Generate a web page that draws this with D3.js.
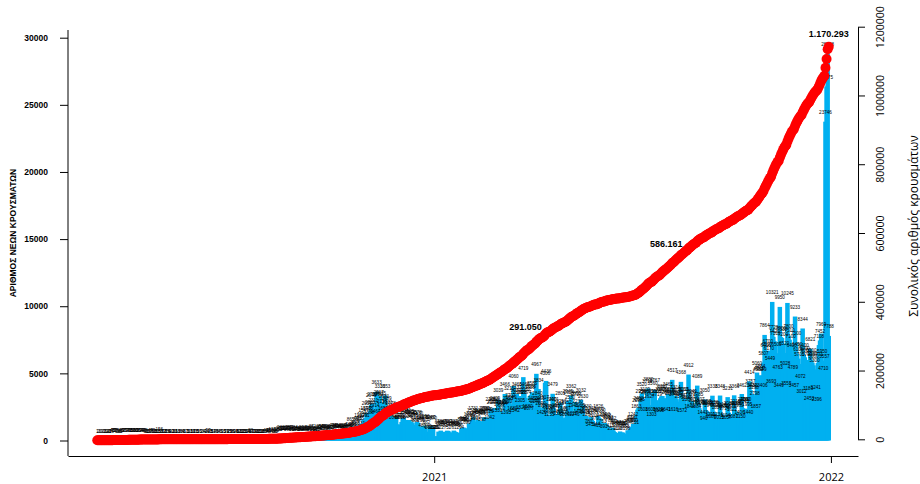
<!DOCTYPE html>
<html>
<head>
<meta charset="utf-8">
<script src="https://cdn.jsdelivr.net/npm/d3@7"></script>
<style>
  html, body { margin: 0; padding: 0; background: #fff; }
  svg { display: block; }
  .axis text { fill: #000; }
  .axis line, .axis path { stroke: #000; }
</style>
</head>
<body>
<div id="chart"></div>
<script>
// daily new cases, one value per day from firstDay on
const firstDay = '2020-02-26';
const feb2020 = [1, 2, 1, 0];
const mar2020 = [0, 2, 0, 3, 22, 14, 13, 11, 7, 16, 45, 99, 57, 38, 56, 24, 33, 31, 46, 61, 66, 95, 71, 74, 78, 71, 73, 95, 60, 56, 102];
const apr2020 = [90, 51, 68, 50, 72, 64, 79, 49, 45, 48, 35, 30, 17, 32, 44, 25, 59, 15, 15, 20, 22, 15, 156, 36, 17, 20, 12, 17, 8, 15];
const may2020 = [16, 6, 4, 10, 13, 2, 10, 11, 6, 18, 3, 2, 6, 8, 4, 8, 17, 13, 1, 3, 10, 15, 1, 17, 8, 11, 20, 5, 5, 10, 5];
const jun2020 = [2, 3, 4, 4, 1, 24, 97, 10, 15, 8, 5, 14, 7, 16, 9, 5, 4, 6, 5, 9, 13, 5, 7, 24, 3, 15, 29, 5, 8, 8];
const jul2020 = [9, 14, 28, 5, 10, 16, 23, 12, 15, 13, 23, 37, 14, 18, 9, 38, 17, 20, 17, 24, 13, 18, 33, 15, 23, 18, 16, 8, 29, 43, 36];
const aug2020 = [48, 45, 110, 37, 121, 80, 30, 10, 80, 150, 151, 203, 262, 191, 230, 228, 217, 221, 168, 269, 284, 216, 211, 167, 284, 180, 176, 198, 240, 193, 154];
const sep2020 = [168, 293, 225, 178, 221, 234, 113, 267, 209, 206, 371, 161, 187, 143, 182, 244, 318, 355, 327, 342, 227, 224, 338, 364, 294, 173, 204, 312, 274, 416];
const oct2020 = [460, 441, 366, 394, 216, 342, 339, 417, 410, 389, 333, 323, 393, 446, 508, 865, 460, 493, 406, 667, 583, 882, 935, 1169, 935, 631, 1259, 1547, 1211, 1690, 2056];
const nov2020 = [1738, 1388, 2166, 2646, 2752, 2311, 1914, 1464, 3633, 2752, 2917, 3316, 2835, 2198, 1695, 2581, 3353, 2489, 2131, 1642, 1498, 2078, 1758, 1498, 1044, 1602, 1747, 1193, 1193, 1044];
const dec2020 = [1026, 1384, 1676, 1677, 1395, 1531, 1126, 1213, 1525, 1412, 1395, 1294, 1155, 881, 832, 1378, 1330, 1043, 938, 793, 480, 1075, 1096, 878, 662, 389, 262, 1047, 1062, 262, 970];
const jan2021 = [262, 329, 262, 262, 663, 604, 736, 579, 653, 481, 275, 637, 731, 712, 618, 586, 447, 261, 737, 668, 626, 538, 589, 457, 294, 857, 926, 966, 908, 896, 696];
const feb2021 = [824, 1267, 1184, 1325, 1531, 1731, 951, 1009, 1416, 1529, 1455, 1429, 1425, 898, 1359, 1700, 1731, 1663, 1640, 1526, 1042, 2365, 2147, 2258, 2368, 2429, 2147, 1531];
const mar2021 = [3039, 2035, 1702, 2162, 2114, 2150, 3466, 1395, 2220, 2453, 3215, 2702, 2549, 1680, 4060, 1542, 3039, 3466, 2899, 3313, 2305, 1820, 2888, 4719, 3465, 3162, 2874, 1880, 1677, 3308, 3386];
const apr2021 = [3586, 2450, 2310, 2270, 4967, 2840, 3834, 2465, 2090, 1420, 1920, 2517, 4306, 4436, 1870, 1580, 1255, 1800, 2400, 3479, 2401, 1840, 1480, 1960, 1335, 2115, 2801, 2250, 1665, 1400];
const may2021 = [1300, 1707, 2152, 2945, 2924, 2530, 3362, 1317, 1946, 1246, 2866, 2727, 2230, 1495, 1965, 3032, 1747, 2630, 1474, 1412, 1830, 1264, 780, 545, 1742, 1536, 1464, 1200, 979, 544, 415];
const jun2021 = [1826, 1672, 1580, 1274, 753, 391, 1303, 1202, 1111, 1013, 788, 411, 259, 952, 742, 636, 568, 512, 219, 195, 674, 563, 606, 580, 483, 353, 198, 762, 677, 803];
const jul2021 = [946, 1020, 1242, 800, 651, 1863, 2298, 2450, 2395, 2950, 3520, 1608, 2966, 3109, 2896, 3716, 3880, 2627, 1608, 1303, 3560, 2960, 3767, 3006, 2719, 1624, 1598, 3147, 3290, 3317, 3002];
const aug2021 = [3156, 1641, 2890, 3465, 3017, 2865, 3116, 4517, 1616, 2790, 3314, 3078, 2896, 2817, 2576, 4368, 1572, 3160, 3115, 2717, 2529, 2384, 4912, 1844, 2920, 2949, 2619, 2328, 2140, 1884, 4089];
const sep2021 = [2785, 2407, 2175, 2096, 1443, 946, 3050, 2257, 2188, 2104, 1944, 1291, 1088, 3338, 2158, 2077, 1920, 1819, 1234, 1015, 3348, 2014, 1931, 1834, 1724, 1194, 1057, 3231, 2084, 1967];
const oct2021 = [1873, 1622, 1087, 3366, 2218, 2106, 2080, 1960, 1406, 1150, 3462, 2400, 2243, 2360, 2360, 1995, 1440, 4414, 3757, 3424, 3453, 3298, 2798, 1857, 5060, 4582, 4716, 4864, 4649, 3406, 5807];
const nov2021 = [7864, 6406, 6510, 6700, 6170, 5449, 3693, 10321, 7720, 7420, 7310, 6500, 4763, 3449, 9950, 7700, 7630, 7200, 6520, 5028, 3555, 10245, 7800, 7510, 7100, 6400, 4789, 3457, 9233, 7300];
const dec2021 = [6450, 6100, 5700, 4072, 3012, 8344, 6400, 6200, 6000, 5700, 3189, 2453, 6821, 6000, 5800, 5600, 5300, 3241, 2396, 5771, 7108, 7452, 7969, 5950, 4710, 5557, 23746, 26375, 28828, 7788];

// cumulative totals written on the red curve
const milestoneDates = ['2021-03-26', '2021-08-24', '2021-12-30'];
const milestoneValues = [291050, 586161, 1170293];

const leftTicks = [0, 5000, 10000, 15000, 20000, 25000, 30000];
const rightTicks = [0, 200000, 400000, 600000, 800000, 1000000, 1200000];
const yearTicks = ['2021-01-01', '2022-01-01'];
const leftTitle = 'ΑΡΙΘΜΟΣ ΝΕΩΝ ΚΡΟΥΣΜΑΤΩΝ';
const rightTitle = 'Συνολικός αριθμός κρουσμάτων';

const daily = [].concat(feb2020, mar2020, apr2020, may2020, jun2020, jul2020, aug2020,
  sep2020, oct2020, nov2020, dec2020, jan2021, feb2021, mar2021, apr2021, may2021,
  jun2021, jul2021, aug2021, sep2021, oct2021, nov2021, dec2021);

const parseDate = d3.utcParse('%Y-%m-%d');
const start = parseDate(firstDay);
const totals = d3.cumsum(daily);
const rows = daily.map((v, i) => ({ date: d3.utcDay.offset(start, i), value: v, total: totals[i] }));

const greek = d3.formatLocale({ decimal: ',', thousands: '.', grouping: [3], currency: ['', ''] });
const fmtTotal = greek.format(',');

const width = 920, height = 484;
const plot = { left: 68, right: 858, top: 30, bottom: 456 };

const svg = d3.select('#chart').append('svg')
  .attr('width', width)
  .attr('height', height);

// x axis padded by 4% on both sides
const first = rows[0].date, last = rows[rows.length - 1].date;
const span = last - first;
const x = d3.scaleUtc()
  .domain([new Date(+first - 0.04 * span), new Date(+last + 0.04 * span)])
  .range([plot.left, plot.right]);

const y = d3.scaleLinear().domain([0, 30000]).range([440.5, 37.7]);
const yCum = d3.scaleLinear().domain([0, d3.max(totals)]).range([440.2, 46.7]);
const yRight = d3.scaleLinear().domain([0, 1200000]).range([439.3, 26.7]);

// bars
const barW = 4.5;
svg.append('g')
  .selectAll('rect')
  .data(rows)
  .join('rect')
  .attr('x', d => x(d.date) - barW / 2)
  .attr('y', d => y(d.value))
  .attr('width', barW)
  .attr('height', d => y(0) - y(d.value))
  .attr('fill', '#00b0f0');

// tiny value labels
svg.append('g')
  .attr('font-family', '"Liberation Sans", Arial, sans-serif')
  .attr('font-size', 4.6)
  .attr('text-anchor', 'middle')
  .attr('fill', '#000')
  .selectAll('text')
  .data(rows)
  .join('text')
  .attr('x', d => x(d.date))
  .attr('y', d => y(d.value) - 7.5)
  .text(d => d.value);

// cumulative points
svg.append('g')
  .selectAll('circle')
  .data(rows)
  .join('circle')
  .attr('cx', d => x(d.date))
  .attr('cy', d => yCum(d.total))
  .attr('r', 5)
  .attr('fill', '#ff0000');

// milestone labels
const milestoneLayout = [
  { anchor: 'middle', dx: 0, dy: -12.5 },
  { anchor: 'end', dx: -7, dy: 3 },
  { anchor: 'middle', dx: 0, dy: -12.5 },
];
svg.append('g')
  .attr('font-family', '"Liberation Sans", Arial, sans-serif')
  .attr('font-size', 9)
  .attr('font-weight', 'bold')
  .selectAll('text')
  .data(milestoneDates.map((d, i) => ({ date: parseDate(d), value: milestoneValues[i], lay: milestoneLayout[i] })))
  .join('text')
  .attr('x', d => x(d.date) + d.lay.dx)
  .attr('y', d => yCum(d.value) + d.lay.dy)
  .attr('text-anchor', d => d.lay.anchor)
  .text(d => fmtTotal(d.value));

// left axis
const gLeft = svg.append('g')
  .attr('class', 'axis')
  .attr('transform', `translate(${plot.left},0)`)
  .call(d3.axisLeft(y).tickValues(leftTicks).tickFormat(d3.format('d')).tickSize(8).tickPadding(12));
gLeft.select('.domain').remove();
gLeft.selectAll('text')
  .attr('font-family', '"Liberation Sans", Arial, sans-serif')
  .attr('font-size', 8.5)
  .attr('font-weight', 'bold');

// plot box, left and bottom
svg.append('line')
  .attr('x1', plot.left).attr('x2', plot.left)
  .attr('y1', plot.top).attr('y2', plot.bottom)
  .attr('stroke', '#000');

const gBottom = svg.append('g')
  .attr('class', 'axis')
  .attr('transform', `translate(0,${plot.bottom})`)
  .call(d3.axisBottom(x)
    .tickValues(yearTicks.map(parseDate))
    .tickFormat(d3.utcFormat('%Y'))
    .tickSize(7)
    .tickSizeOuter(0)
    .tickPadding(10));
gBottom.selectAll('text')
  .attr('font-family', '"Open Sans", sans-serif')
  .attr('font-size', 11);

// right axis
const gRight = svg.append('g')
  .attr('class', 'axis')
  .attr('transform', `translate(${plot.right},0)`)
  .call(d3.axisRight(yRight).tickValues(rightTicks).tickFormat(d3.format('d')).tickSize(7).tickSizeOuter(0));
gRight.selectAll('text')
  .attr('x', null)
  .attr('dy', null)
  .attr('text-anchor', 'middle')
  .attr('dominant-baseline', 'central')
  .attr('transform', 'translate(22,0) rotate(-90)')
  .attr('font-family', '"Open Sans", sans-serif')
  .attr('font-size', 10.5);

// axis titles
svg.append('text')
  .attr('transform', 'translate(13,233) rotate(-90)')
  .attr('text-anchor', 'middle')
  .attr('dominant-baseline', 'central')
  .attr('font-family', '"Liberation Sans", Arial, sans-serif')
  .attr('font-weight', 'bold')
  .attr('font-size', 8.5)
  .text(leftTitle);

svg.append('text')
  .attr('transform', 'translate(913,226) rotate(-90)')
  .attr('text-anchor', 'middle')
  .attr('dominant-baseline', 'central')
  .attr('font-family', '"Open Sans", sans-serif')
  .attr('font-size', 12)
  .text(rightTitle);
</script>
</body>
</html>
